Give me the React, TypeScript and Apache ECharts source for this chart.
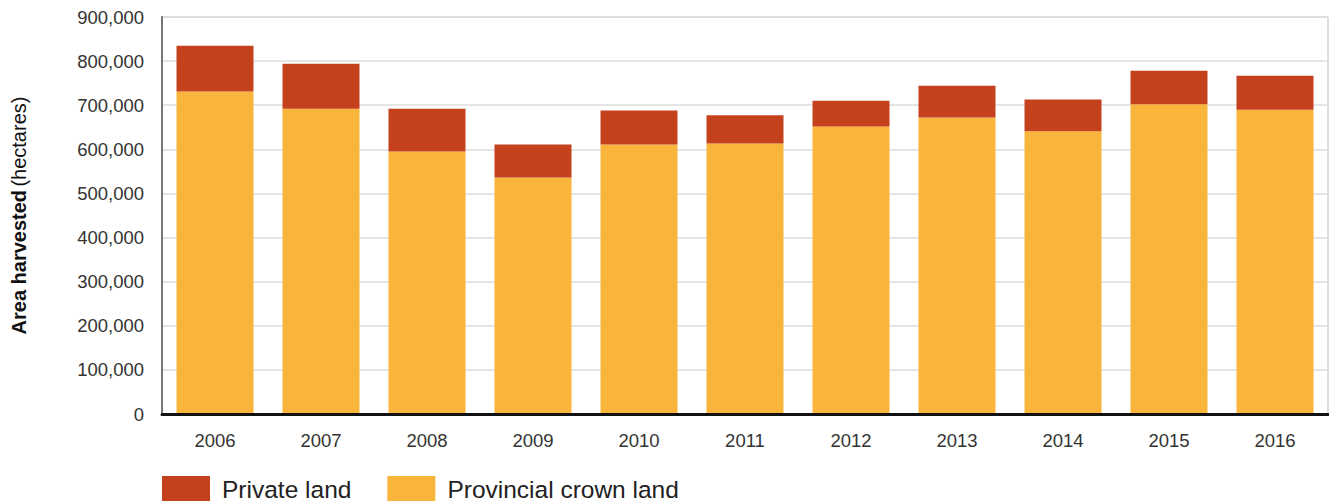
import React, { useEffect, useRef } from "react";
import * as echarts from "echarts";

const years = ["2006", "2007", "2008", "2009", "2010", "2011", "2012", "2013", "2014", "2015", "2016"];
const crownLand = [731000, 692000, 595000, 536000, 611000, 613000, 652000, 672000, 641000, 702000, 690000];
const privateLand = [104000, 102000, 97000, 75000, 77000, 64000, 58000, 72000, 72000, 76000, 77000];
const yTicks = { min: 0, max: 900000, interval: 100000 };

const FONT = "'Liberation Sans', Arial, Helvetica, sans-serif";

export default function App() {
  const ref = useRef<HTMLDivElement>(null);
  useEffect(() => {
    document.body.style.margin = "0";
    document.documentElement.style.overflow = "hidden";
    if (!ref.current) return;
    const chart = echarts.init(ref.current, null, { renderer: "svg" });
    chart.setOption({
      animation: false,
      backgroundColor: "#ffffff",
      textStyle: { fontFamily: FONT },
      grid: {
        left: 162,
        right: 1,
        top: 17,
        bottom: 87,
        containLabel: false,
        outerBoundsMode: "none",
        show: true,
        borderColor: "#bbbbbb",
        borderWidth: 1,
      },
      legend: {
        left: 162,
        top: 476,
        padding: 0,
        itemWidth: 48,
        itemHeight: 26,
        itemGap: 36,
        itemStyle: { borderWidth: 0 },
        textStyle: { fontSize: 24.5, color: "#222", fontFamily: FONT, padding: [0, 0, 0, 7] },
        icon: "rect",
        data: ["Private land", "Provincial crown land"],
      },
      xAxis: {
        type: "category",
        data: years,
        axisTick: { show: false },
        axisLine: { show: true, lineStyle: { color: "#111", width: 3 } },
        axisLabel: { fontSize: 18.5, color: "#333", margin: 17, fontFamily: FONT },
        z: 10,
      },
      yAxis: {
        type: "value",
        min: yTicks.min,
        max: yTicks.max,
        interval: yTicks.interval,
        axisLine: { show: true, lineStyle: { color: "#777", width: 2 } },
        axisTick: { show: false },
        axisLabel: {
          fontSize: 18.5,
          color: "#333",
          margin: 18,
          fontFamily: FONT,
          formatter: (v: number) => v.toLocaleString("en-US"),
        },
        splitLine: { show: true, lineStyle: { color: "#dddddd", width: 1.5 } },
        name: "{b|Area harvested} {n|(hectares)}",
        nameLocation: "middle",
        nameRotate: 90,
        nameGap: 133,
        nameTextStyle: {
          rich: {
            b: { fontSize: 20, fontWeight: "bold", color: "#111", fontFamily: FONT },
            n: { fontSize: 20, fontWeight: "normal", color: "#111", fontFamily: FONT },
          },
        },
      },
      series: [
        {
          name: "Provincial crown land",
          type: "bar",
          stack: "total",
          data: crownLand,
          barWidth: 77,
          itemStyle: { color: "#F9B43B" },
        },
        {
          name: "Private land",
          type: "bar",
          stack: "total",
          data: privateLand,
          barWidth: 77,
          itemStyle: { color: "#C5411E" },
        },
      ],
    });
    return () => chart.dispose();
  }, []);
  return (
    <div
      ref={ref}
      style={{ position: "fixed", left: 0, top: 0, width: 1329, height: 501, background: "#fff" }}
    />
  );
}
